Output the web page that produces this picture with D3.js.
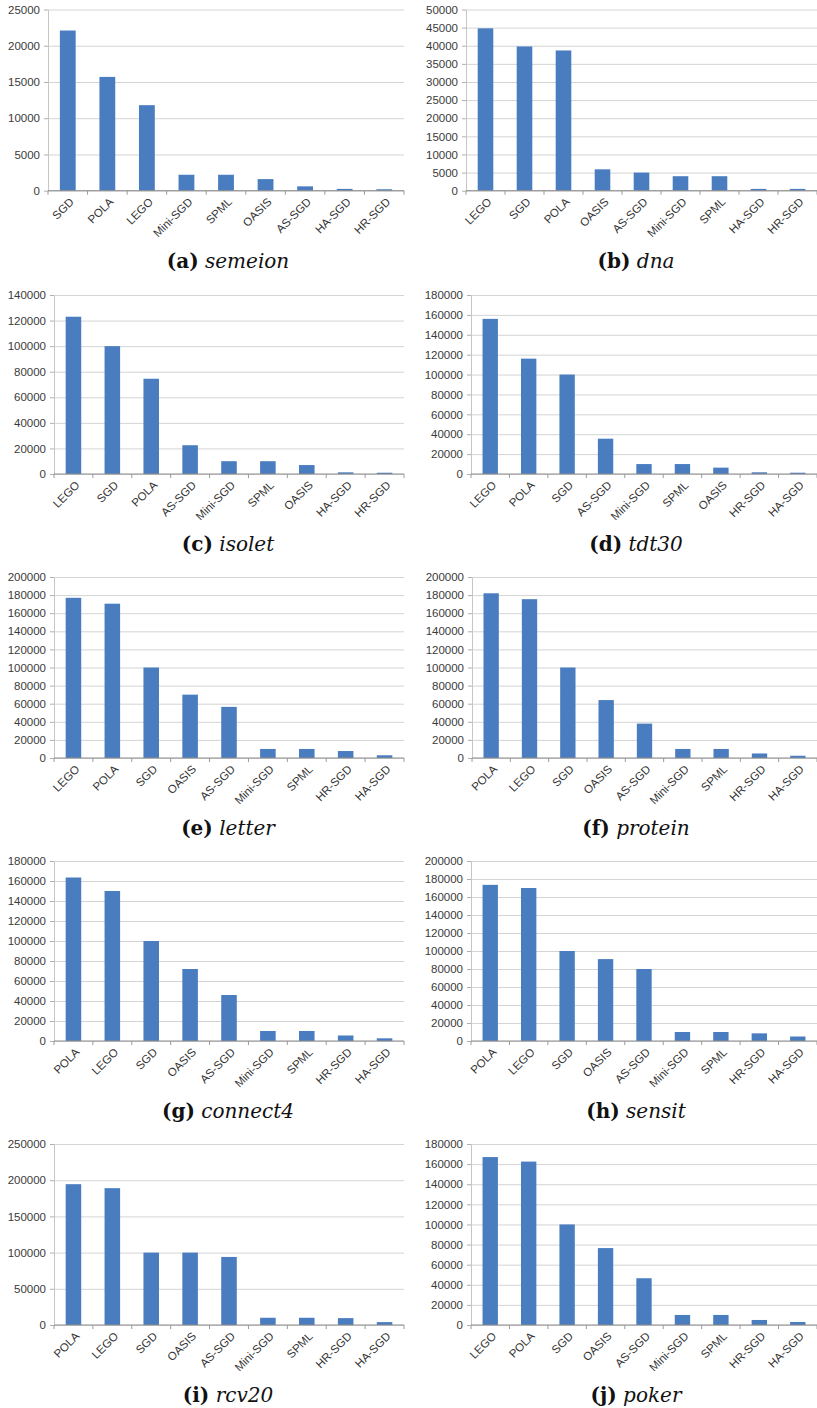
<!DOCTYPE html>
<html>
<head>
<meta charset="utf-8">
<script src="https://cdn.jsdelivr.net/npm/d3@7"></script>
<style>
  body { margin: 0; background: #fff; }
  svg { display: block; }
  .tick text, .xl { font-family: "Liberation Sans", Arial, sans-serif; }
  .cap { font-family: "DejaVu Serif", serif; }
</style>
</head>
<body>
<div id="chart"></div>
<script>
// one pair of arrays per dataset
const semeionCats = ['SGD','POLA','LEGO','Mini-SGD','SPML','OASIS','AS-SGD','HA-SGD','HR-SGD']
const semeionVals = [22100, 15700, 11800, 2200, 2200, 1600, 600, 250, 200]

const dnaCats = ['LEGO','SGD','POLA','OASIS','AS-SGD','Mini-SGD','SPML','HA-SGD','HR-SGD']
const dnaVals = [44800, 39800, 38700, 5900, 5000, 4000, 4000, 500, 500]

const isoletCats = ['LEGO','SGD','POLA','AS-SGD','Mini-SGD','SPML','OASIS','HA-SGD','HR-SGD']
const isoletVals = [123000, 100000, 74500, 22500, 10000, 10000, 7000, 1300, 1000]

const tdt30Cats = ['LEGO','POLA','SGD','AS-SGD','Mini-SGD','SPML','OASIS','HR-SGD','HA-SGD']
const tdt30Vals = [156000, 116000, 100000, 35500, 10000, 10000, 6400, 1700, 1300]

const letterCats = ['LEGO','POLA','SGD','OASIS','AS-SGD','Mini-SGD','SPML','HR-SGD','HA-SGD']
const letterVals = [177000, 170500, 100000, 70000, 56500, 10000, 10000, 7700, 3000]

const proteinCats = ['POLA','LEGO','SGD','OASIS','AS-SGD','Mini-SGD','SPML','HR-SGD','HA-SGD']
const proteinVals = [182000, 175500, 100000, 64000, 38000, 10000, 10000, 5000, 2500]

const connect4Cats = ['POLA','LEGO','SGD','OASIS','AS-SGD','Mini-SGD','SPML','HR-SGD','HA-SGD']
const connect4Vals = [163500, 150000, 100000, 72000, 46000, 10000, 10000, 5500, 2700]

const sensitCats = ['POLA','LEGO','SGD','OASIS','AS-SGD','Mini-SGD','SPML','HR-SGD','HA-SGD']
const sensitVals = [173500, 170000, 100000, 91000, 80000, 10000, 10000, 8500, 5000]

const rcv20Cats = ['POLA','LEGO','SGD','OASIS','AS-SGD','Mini-SGD','SPML','HR-SGD','HA-SGD']
const rcv20Vals = [194500, 189000, 100000, 100000, 94000, 10000, 10000, 9500, 4000]

const pokerCats = ['LEGO','POLA','SGD','OASIS','AS-SGD','Mini-SGD','SPML','HR-SGD','HA-SGD']
const pokerVals = [167000, 162500, 100000, 76500, 46500, 10000, 10000, 5000, 3000]

// y tick labels: [max, step]
const yTicks = [[25000,5000],[50000,5000],[140000,20000],[180000,20000],[200000,20000],
                [200000,20000],[180000,20000],[200000,20000],[250000,50000],[180000,20000]]

const letters = ['a','b','c','d','e','f','g','h','i','j']
const names = ['semeion','dna','isolet','tdt30','letter','protein','connect4','sensit','rcv20','poker']
const cats = [semeionCats,dnaCats,isoletCats,tdt30Cats,letterCats,proteinCats,connect4Cats,sensitCats,rcv20Cats,pokerCats]
const vals = [semeionVals,dnaVals,isoletVals,tdt30Vals,letterVals,proteinVals,connect4Vals,sensitVals,rcv20Vals,pokerVals]

// layout: plot top / zero line for each row, plot left per panel
const rows = [[9.5,190.7],[295,474],[577,758],[861,1041],[1144,1325]]
const lefts = [48,466,54,471,54,472,54,471,54,471]

const svg = d3.select('#chart').append('svg')
  .attr('width', 817)
  .attr('height', 1408)

const barColor = '#4a7dc0'

for (let k = 0; k < 10; k++) {
  const col = k % 2
  const row = Math.floor(k / 2)
  const top = rows[row][0], zero = rows[row][1]
  const left = lefts[k]
  const right = col == 0 ? 404 : 817
  const [yMax, yStep] = yTicks[k]

  const x = d3.scaleBand()
    .domain(cats[k])
    .range([left, right])
    .paddingInner(0.6)
    .paddingOuter(0.3)

  const y = d3.scaleLinear()
    .domain([0, yMax])
    .range([zero, top])

  const tv = d3.range(0, yMax + 1, yStep)
  const g = svg.append('g')

  // gridlines
  g.append('g')
    .attr('transform', 'translate(' + left + ',0)')
    .call(d3.axisLeft(y).tickValues(tv).tickSize(-(right - left)).tickFormat(''))
    .call(s => s.select('.domain').remove())
    .selectAll('line')
    .attr('stroke', '#d4d4d4')

  // y axis with labels
  g.append('g')
    .attr('transform', 'translate(' + left + ',0)')
    .call(d3.axisLeft(y).tickValues(tv).tickSize(4).tickPadding(4).tickSizeOuter(0).tickFormat(d3.format('d')))
    .call(s => s.select('.domain').attr('stroke', '#c6c6c6'))
    .call(s => s.selectAll('line').attr('stroke', '#b0b0b0'))
    .selectAll('text')
    .attr('font-size', '11.5px')
    .attr('fill', '#3a3a3a')

  // bars
  g.selectAll('.bars')
    .data(cats[k].map((c, i) => ({c: c, v: vals[k][i]})))
    .enter()
    .append('rect')
    .attr('class', 'bars')
    .attr('x', d => x(d.c))
    .attr('y', d => y(d.v))
    .attr('width', x.bandwidth())
    .attr('height', d => zero - y(d.v))
    .attr('fill', barColor)

  // x axis line + category boundary ticks
  g.append('line')
    .attr('x1', left).attr('x2', right)
    .attr('y1', zero).attr('y2', zero)
    .attr('stroke', '#8c8c8c')
  const bounds = d3.range(cats[k].length + 1).map(i => left + i * x.step())
  g.selectAll('.xt')
    .data(bounds)
    .enter()
    .append('line')
    .attr('x1', d => d).attr('x2', d => d)
    .attr('y1', zero).attr('y2', zero + 4)
    .attr('stroke', '#9a9a9a')

  // rotated category labels
  g.selectAll('.xl')
    .data(cats[k])
    .enter()
    .append('text')
    .attr('class', 'xl')
    .attr('transform', d => 'translate(' + (x(d) + x.bandwidth() / 2 + 4) + ',' + (zero + 9) + ')rotate(-45)')
    .attr('text-anchor', 'end')
    .attr('dy', '0.35em')
    .attr('font-size', '11.5px')
    .attr('fill', '#333')
    .text(d => d)

  // caption
  const cap = svg.append('text')
    .attr('class', 'cap')
    .attr('x', col == 0 ? 228 : 636)
    .attr('y', zero + 77)
    .attr('text-anchor', 'middle')
    .attr('font-size', '20px')
    .attr('fill', '#111')
  cap.append('tspan').attr('font-weight', 'bold').text('(' + letters[k] + ')')
  cap.append('tspan').text(' ')
  cap.append('tspan').attr('font-style', 'italic').text(names[k])
}
</script>
</body>
</html>
